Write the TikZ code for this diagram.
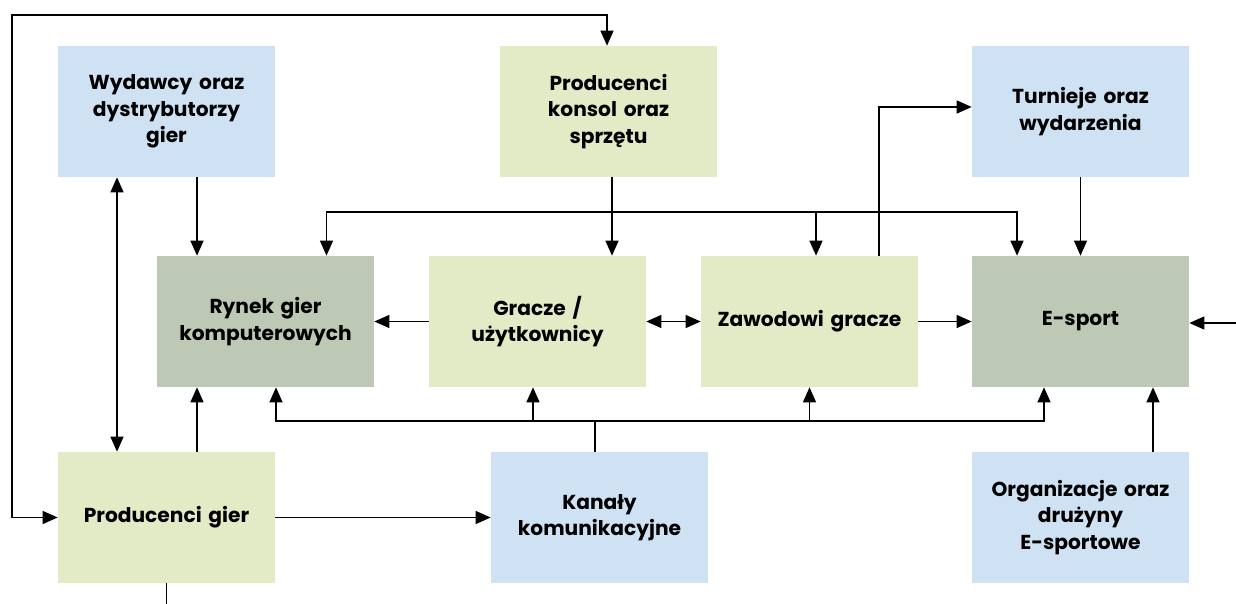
\documentclass[tikz,border=0pt]{standalone}
\usepackage{fontspec}
\setmainfont{Poppins}
\usetikzlibrary{arrows.meta,calc}

\definecolor{paleblue}{HTML}{CFE2F3}
\definecolor{palegreen}{HTML}{E3EBC6}
\definecolor{sagegreen}{HTML}{BDC9B4}

\begin{document}
\begin{tikzpicture}[x=0.02cm,y=-0.02cm]
	\tikzstyle{block}=[minimum width=4.34cm, minimum height=2.62cm, text width=4.1cm, align=center, inner sep=0pt, font=\fontsize{11.5}{15}\selectfont\bfseries]
	\tikzstyle{arr}=[-{Triangle[length=3mm,width=2.6mm]}, line width=0.75pt]
	\tikzstyle{dbl}=[{Triangle[length=3mm,width=2.6mm]}-{Triangle[length=3mm,width=2.6mm]}, line width=0.75pt]
	\tikzstyle{wire}=[line width=0.75pt]

	\useasboundingbox (0,0) rectangle (1236,604);

	% Top row
	\node[block, fill=paleblue] at (166.5, 111.5) (wyd) {Wydawcy oraz\\dystrybutorzy\\gier};
	\node[block, fill=palegreen] at (608.5, 111.5) (konsol) {Producenci\\konsol oraz\\sprzętu};
	\node[block, fill=paleblue] at (1080.5, 111.5) (turn) {Turnieje oraz\\wydarzenia};

	% Middle row
	\node[block, fill=sagegreen] at (265.5, 321.5) (rynek) {Rynek gier\\komputerowych};
	\node[block, fill=palegreen] at (537.5, 321.5) (gracze) {Gracze /\\użytkownicy};
	\node[block, fill=palegreen] at (809.5, 321.5) (zawod) {Zawodowi gracze};
	\node[block, fill=sagegreen] at (1080.5, 321.5) (esport) {E-sport};

	% Bottom row
	\node[block, fill=palegreen] at (166.5, 517.5) (prodg) {Producenci gier};
	\node[block, fill=paleblue] at (599.5, 517.5) (kanaly) {Kanały\\komunikacyjne};
	\node[block, fill=paleblue] at (1080.5, 517.5) (org) {Organizacje oraz\\drużyny\\E-sportowe};

	% helper points
	\coordinate (corner) at (12, 15);
	\coordinate (stubend) at (166.5, 604);
	\coordinate (colwp) at (117, 0);
	\coordinate (colwr) at (197, 0);
	\coordinate (colkg) at (612, 0);
	\coordinate (coloe) at (1153, 0);
	\coordinate (topbus) at (612, 212);
	\coordinate (botbus) at (595, 421);
	\coordinate (einside) at (1236, 323);

	%----------------------------------------------------%
	%                  connect blocks                    %
	%----------------------------------------------------%

	% outer loop
	\draw[dbl] (prodg.west) -| (corner) -| ($(konsol.north)+(-1.5,0)$);
	\draw[wire] (prodg.south) -- (stubend);

	% left column
	\draw[dbl] (colwp |- wyd.south) -- (colwp |- prodg.north);
	\draw[arr] (colwr |- wyd.south) -- (colwr |- rynek.north);
	\draw[arr] (colwr |- prodg.north) -- (colwr |- rynek.south);

	% konsol -> gracze, top bus
	\draw[arr] (colkg |- konsol.south) -- (colkg |- gracze.north);
	\foreach \n/\dx in {rynek/61, zawod/6.5, esport/-63.5}
		\draw[arr] (topbus) -| ($(\n.north)+(\dx,0)$);

	% zawodowi -> turnieje -> e-sport
	\draw[arr] ($(zawod.north)+(69.5,0)$) |- ($(turn.west)+(0,-4.5)$);
	\draw[arr] (turn) -- (esport);

	% middle row
	\draw[arr] (gracze) -- (rynek);
	\draw[dbl] (gracze) -- (zawod);
	\draw[arr] (zawod) -- (esport);
	\draw[arr] (einside) -- (einside -| esport.east);

	% bottom row
	\draw[arr] (prodg) -- (kanaly);
	\draw[arr] (coloe |- org.north) -- (coloe |- esport.south);
	\draw[wire] (botbus |- kanaly.north) -- (botbus);
	\foreach \n/\dx in {rynek/10.5, gracze/-4.5, zawod/0, esport/-36.5}
		\draw[arr] (botbus) -| ($(\n.south)+(\dx,0)$);

\end{tikzpicture}
\end{document}
